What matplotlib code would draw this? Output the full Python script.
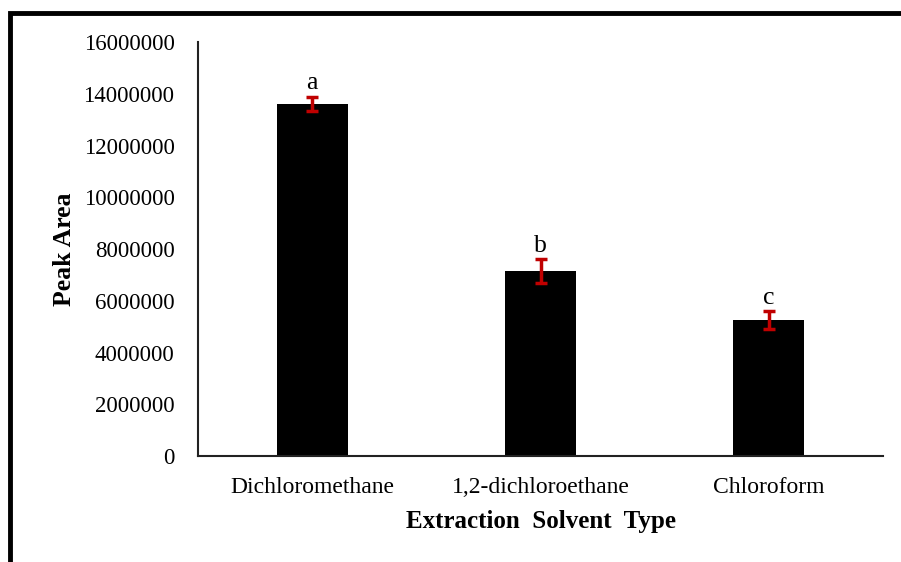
import matplotlib
matplotlib.use("Agg")
import matplotlib.pyplot as plt
from matplotlib.patches import Rectangle

solvents = ["Dichloromethane", "1,2-dichloroethane", "Chloroform"]
peak_area = [13600000, 7150000, 5250000]
peak_err = [280000, 450000, 350000]
letters = ["a", "b", "c"]
yticks = [0, 2000000, 4000000, 6000000, 8000000, 10000000, 12000000, 14000000, 16000000]

plt.rcParams["font.family"] = ["Liberation Serif", "DejaVu Serif"]

fig = plt.figure(figsize=(9.01, 5.62), dpi=100)
ax = fig.add_axes([0.2198, 0.1886, 0.7602, 0.7364])

x = list(range(len(solvents)))
ax.bar(x, peak_area, width=0.31, color="black", zorder=2)
ax.errorbar(x, peak_area, yerr=peak_err, fmt="none", ecolor="#c00000",
            elinewidth=2.5, capsize=4, capthick=2.5, zorder=3)
for xi, v, e, t in zip(x, peak_area, peak_err, letters):
    ax.text(xi, v + e + 100000, t, ha="center", va="bottom", fontsize=18.5)

ax.set_xlim(-0.5, 2.5)
ax.set_ylim(0, 16000000)
ax.set_yticks(yticks)
ax.set_yticklabels([str(v) for v in yticks], fontsize=16.5)
ax.set_xticks(x)
ax.set_xticklabels(solvents, fontsize=17)
ax.tick_params(axis="y", length=0, pad=17)
ax.tick_params(axis="x", length=0, pad=15)
for s in ["top", "right"]:
    ax.spines[s].set_visible(False)
for s in ["left", "bottom"]:
    ax.spines[s].set_linewidth(1.5)
    ax.spines[s].set_color("#222222")

ax.set_ylabel("Peak Area", fontsize=18.5, fontweight="bold", labelpad=5)
ax.set_xlabel("Extraction  Solvent  Type", fontsize=18, fontweight="bold", labelpad=9)

fig.patches.append(Rectangle((10 / 901, -0.1), 1.2, 1.1 - 13 / 562,
                             transform=fig.transFigure, fill=False,
                             edgecolor="black", linewidth=3.5, clip_on=False))

fig.savefig("out.png", dpi=100)
